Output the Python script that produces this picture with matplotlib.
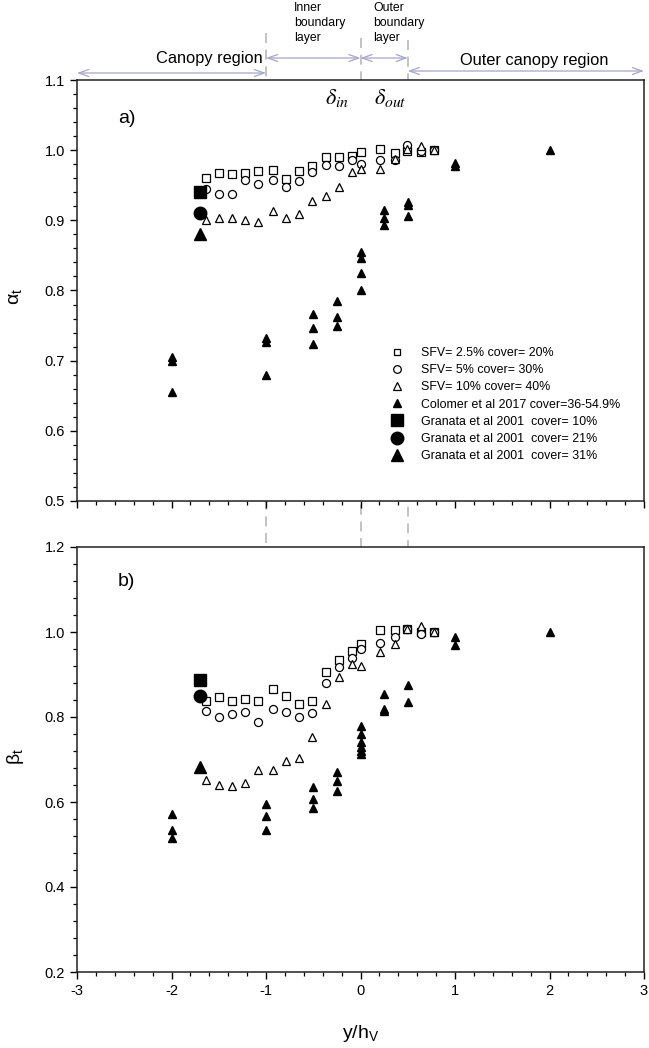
import matplotlib
matplotlib.use('Agg')
import matplotlib.pyplot as plt
from matplotlib.lines import Line2D
from matplotlib.ticker import MultipleLocator, FormatStrFormatter
import matplotlib.transforms as mtransforms

plt.rcParams['font.family'] = ['Liberation Sans', 'DejaVu Sans']
plt.rcParams['axes.unicode_minus'] = False
plt.rcParams['mathtext.default'] = 'regular'

# positions along y/hV for the SFV runs
x_sfv = [-1.64, -1.50, -1.36, -1.22, -1.08, -0.93, -0.79, -0.65, -0.51,
         -0.37, -0.23, -0.09, 0.0, 0.21, 0.36, 0.49, 0.64, 0.78]

# panel a) alpha_t
a_sfv25 = [0.960, 0.968, 0.966, 0.968, 0.971, 0.972, 0.959, 0.971, 0.978,
           0.990, 0.990, 0.991, 0.998, 1.002, 0.996, 0.999, 0.998, 1.000]
a_sfv5 = [0.944, 0.937, 0.937, 0.958, 0.952, 0.958, 0.947, 0.956, 0.969,
          0.979, 0.977, 0.986, 0.980, 0.986, 0.986, 1.007, 0.999, 1.000]
a_sfv10 = [0.901, 0.904, 0.904, 0.900, 0.898, 0.914, 0.903, 0.909, 0.927,
           0.935, 0.947, 0.969, 0.973, 0.973, 0.987, 1.001, 1.006, 1.000]

# panel b) beta_t
b_sfv25 = [0.837, 0.847, 0.837, 0.842, 0.838, 0.867, 0.849, 0.831, 0.838,
           0.906, 0.935, 0.955, 0.971, 1.004, 1.004, 1.006, 1.000, 1.000]
b_sfv5 = [0.814, 0.800, 0.808, 0.812, 0.788, 0.818, 0.812, 0.800, 0.809,
          0.881, 0.918, 0.940, 0.961, 0.975, 0.988, 1.006, 0.996, 1.000]
b_sfv10 = [0.651, 0.641, 0.637, 0.645, 0.675, 0.675, 0.696, 0.704, 0.753,
           0.831, 0.893, 0.924, 0.920, 0.953, 0.971, 1.006, 1.013, 1.000]

# Colomer et al 2017
col_a_x = [-2, -2, -2, -1, -1, -1, -0.5, -0.5, -0.5, -0.25, -0.25, -0.25,
           0, 0, 0, 0, 0.25, 0.25, 0.25, 0.5, 0.5, 0.5, 1, 1, 2]
col_a_y = [0.705, 0.700, 0.655, 0.732, 0.727, 0.680, 0.766, 0.747, 0.724,
           0.785, 0.762, 0.750, 0.855, 0.847, 0.825, 0.800, 0.915, 0.903,
           0.893, 0.926, 0.922, 0.906, 0.981, 0.977, 1.000]
col_b_x = [-2, -2, -2, -1, -1, -1, -0.5, -0.5, -0.5, -0.25, -0.25, -0.25,
           0, 0, 0, 0, 0, 0, 0.25, 0.25, 0.25, 0.5, 0.5, 1, 1, 2]
col_b_y = [0.571, 0.533, 0.516, 0.596, 0.568, 0.535, 0.635, 0.608, 0.587,
           0.671, 0.649, 0.626, 0.778, 0.761, 0.741, 0.729, 0.720, 0.714,
           0.853, 0.820, 0.814, 0.875, 0.835, 0.988, 0.969, 1.000]

# Granata et al 2001 (cover 10%, 21%, 31%)
gra_x = -1.70
gra_a = [0.940, 0.910, 0.880]
gra_b = [0.888, 0.850, 0.682]

labels = ['SFV= 2.5% cover= 20%', 'SFV= 5% cover= 30%', 'SFV= 10% cover= 40%',
          'Colomer et al 2017 cover=36-54.9%', 'Granata et al 2001  cover= 10%',
          'Granata et al 2001  cover= 21%', 'Granata et al 2001  cover= 31%']

W, H = 649, 1048
fig = plt.figure(figsize=(W / 100, H / 100), dpi=100)
axa = fig.add_axes([77 / W, 1 - 501 / H, 567 / W, 421 / H])
axb = fig.add_axes([77 / W, 1 - 972 / H, 567 / W, 425 / H])


def draw(ax, s25, s5, s10, cx, cy, g):
    ax.plot(x_sfv, s25, ls='none', marker='s', ms=5.5, mfc='white', mec='black', mew=0.9, zorder=3)
    ax.plot(x_sfv, s5, ls='none', marker='o', ms=5.8, mfc='white', mec='black', mew=0.9, zorder=3)
    ax.plot(x_sfv, s10, ls='none', marker='^', ms=6, mfc='white', mec='black', mew=0.9, zorder=3)
    ax.plot(cx, cy, ls='none', marker='^', ms=6, color='black', zorder=3)
    ax.plot([gra_x], [g[0]], ls='none', marker='s', ms=8, color='black', zorder=3)
    ax.plot([gra_x], [g[1]], ls='none', marker='o', ms=9, color='black', zorder=3)
    ax.plot([gra_x], [g[2]], ls='none', marker='^', ms=9, color='black', zorder=3)
    ax.set_xlim(-3, 3)
    ax.xaxis.set_major_locator(MultipleLocator(1))
    ax.xaxis.set_minor_locator(MultipleLocator(0.2))
    ax.tick_params(which='major', direction='out', length=5, width=1, labelsize=10.5)
    ax.tick_params(which='minor', direction='out', length=3, width=0.9)
    ax.tick_params(top=False, right=False, which='both')
    ax.yaxis.set_major_formatter(FormatStrFormatter('%.1f'))
    for sp in ax.spines.values():
        sp.set_linewidth(1.1)
        sp.set_color('#222222')


draw(axa, a_sfv25, a_sfv5, a_sfv10, col_a_x, col_a_y, gra_a)
draw(axb, b_sfv25, b_sfv5, b_sfv10, col_b_x, col_b_y, gra_b)

axa.set_ylim(0.5, 1.1)
axa.yaxis.set_major_locator(MultipleLocator(0.1))
axa.yaxis.set_minor_locator(MultipleLocator(0.02))
axa.tick_params(labelbottom=False)
axb.set_ylim(0.2, 1.2)
axb.yaxis.set_major_locator(MultipleLocator(0.2))
axb.yaxis.set_minor_locator(MultipleLocator(0.04))

axa.text(-2.57, 1.045, 'a)', fontsize=14, va='center')
axb.text(-2.57, 1.12, 'b)', fontsize=14, va='center')
axa.text(-0.25, 1.073, r'$\mathit{\delta}_{\mathit{in}}$', fontsize=16, ha='center', va='center', math_fontfamily='stix')
axa.text(0.31, 1.073, r'$\mathit{\delta}_{\mathit{out}}$', fontsize=16, ha='center', va='center', math_fontfamily='stix')

fig.text(15 / W, 1 - 296 / H, r'$\alpha_t$', fontsize=14, rotation=90, ha='center', va='center')
fig.text(16 / W, 1 - 756 / H, r'$\beta_t$', fontsize=14, rotation=90, ha='center', va='center')
fig.text(361 / W, 1 - 1033 / H, r'y/h$_V$', fontsize=14, ha='center', va='center')

# legend
handles = [
    Line2D([], [], ls='none', marker='s', ms=5, mfc='white', mec='black', mew=0.9),
    Line2D([], [], ls='none', marker='o', ms=5.5, mfc='white', mec='black', mew=0.9),
    Line2D([], [], ls='none', marker='^', ms=5.5, mfc='white', mec='black', mew=0.9),
    Line2D([], [], ls='none', marker='^', ms=6, color='black'),
    Line2D([], [], ls='none', marker='s', ms=8, color='black'),
    Line2D([], [], ls='none', marker='o', ms=9, color='black'),
    Line2D([], [], ls='none', marker='^', ms=9, color='black'),
]
axa.legend(handles, labels, loc='upper left', bbox_to_anchor=(391 / W, 1 - 347 / H),
           bbox_transform=fig.transFigure, frameon=False, fontsize=8.9,
           handlelength=1.0, handletextpad=1.4, labelspacing=0.42,
           borderpad=0, borderaxespad=0)

# region boundaries and annotations
trans = mtransforms.blended_transform_factory(axb.transData, fig.transFigure)
for xv, top in [(-1, 33), (0, 38), (0.5, 40)]:
    fig.add_artist(Line2D([xv, xv], [1 - top / H, 1 - 972 / H], transform=trans,
                          color='#b8b8b8', lw=1.2, ls=(0, (6, 4)), zorder=0))

acol = '#a6a6c8'
astyle = '<->,head_length=0.7,head_width=0.25'
for x0, x1, ypx in [(-3, -1, 73), (-1, 0, 58), (0, 0.5, 58), (0.5, 3, 71)]:
    axa.annotate('', xy=(x1, H - ypx), xytext=(x0, H - ypx),
                 xycoords=('data', 'figure pixels'), textcoords=('data', 'figure pixels'),
                 arrowprops=dict(arrowstyle=astyle, color=acol, lw=0.9, shrinkA=0, shrinkB=0),
                 annotation_clip=False)

fig.text(263 / W, 1 - 58 / H, 'Canopy region', fontsize=11.8, ha='right', va='center')
fig.text(534 / W, 1 - 61 / H, 'Outer canopy region', fontsize=11.8, ha='center', va='center')
fig.text(294 / W, 1 - 23 / H, 'Inner\nboundary\nlayer', fontsize=8.8, ha='left', va='center', linespacing=1.3)
fig.text(373 / W, 1 - 23 / H, 'Outer\nboundary\nlayer', fontsize=8.8, ha='left', va='center', linespacing=1.3)

fig.savefig('out.png', dpi=100)
